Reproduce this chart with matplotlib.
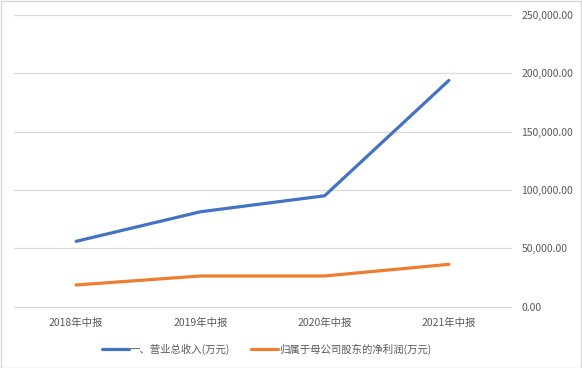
import matplotlib
matplotlib.use("Agg")
import matplotlib.pyplot as plt
from matplotlib.ticker import FuncFormatter
from matplotlib.patches import Rectangle

plt.rcParams['font.family'] = ['Noto Sans CJK SC', 'DejaVu Sans']

periods = ["2018年中报", "2019年中报", "2020年中报", "2021年中报"]
revenue = [56000, 81300, 95000, 193800]
net_profit = [18600, 26300, 26300, 36300]
series_names = ["一、营业总收入(万元)", "归属于母公司股东的净利润(万元)"]
y_ticks = [0, 50000, 100000, 150000, 200000, 250000]

fig = plt.figure(figsize=(5.82, 3.68), dpi=100)
ax = fig.add_axes([14 / 582, 1 - 306.7 / 368, (511 - 14) / 582, (306.7 - 14.8) / 368])

x = list(range(len(periods)))
ax.plot(x, revenue, color="#4472C4", lw=2.3, solid_capstyle="round", label=series_names[0], zorder=3)
ax.plot(x, net_profit, color="#ED7D31", lw=2.3, solid_capstyle="round", label=series_names[1], zorder=3)

ax.set_xlim(-0.5, len(periods) - 0.5)
ax.set_ylim(0, 250000)
ax.set_yticks(y_ticks)
ax.yaxis.set_major_formatter(FuncFormatter(lambda v, p: f"{v:,.2f}"))
ax.yaxis.tick_right()
ax.set_xticks(x)
ax.set_xticklabels(periods)

ax.grid(axis="y", color="#D9D9D9", lw=0.9)
for gl in ax.get_ygridlines():
    gl.set_clip_on(False)
ax.set_axisbelow(True)
for s in ax.spines.values():
    s.set_visible(False)
ax.tick_params(axis="both", length=0, labelsize=7.5, labelcolor="#595959")
ax.tick_params(axis="y", pad=7.5)
ax.tick_params(axis="x", pad=8)
for lbl in ax.get_yticklabels():
    lbl.set_horizontalalignment("left")

leg = fig.legend(loc="center", bbox_to_anchor=(0.458, 1 - 349 / 368), ncol=2, frameon=False,
                 fontsize=7.5, handlelength=2.6, columnspacing=2.0, handletextpad=0.1)
for t in leg.get_texts():
    t.set_color("#595959")

fig.patches.append(Rectangle((0.5 / 582, 0.5 / 368), 1 - 1.5 / 582, 1 - 1.5 / 368,
                             transform=fig.transFigure, fill=False, edgecolor="#D9D9D9", lw=1))

fig.savefig("out.png", dpi=100)
